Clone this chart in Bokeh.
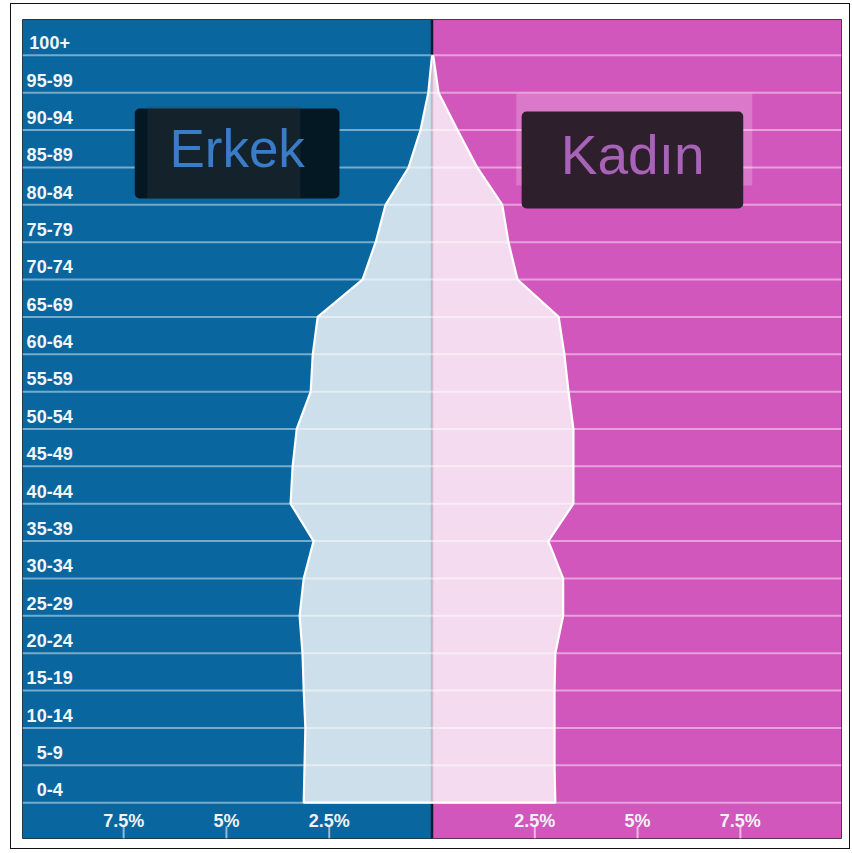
from bokeh.plotting import figure
from bokeh.models import Range1d, BoxAnnotation, Label, InlineStyleSheet
from bokeh.core.properties import value
from bokeh.embed import file_html
from bokeh.resources import INLINE

# ---- data ----
age_groups = ["0-4", "5-9", "10-14", "15-19", "20-24", "25-29", "30-34", "35-39",
              "40-44", "45-49", "50-54", "55-59", "60-64", "65-69", "70-74",
              "75-79", "80-84", "85-89", "90-94", "95-99", "100+"]
male_pct = [3.12, 3.10, 3.08, 3.12, 3.15, 3.22, 3.12, 2.88, 3.44, 3.39, 3.29,
            2.95, 2.90, 2.78, 1.69, 1.37, 1.13, 0.57, 0.28, 0.09, 0.0]
female_pct = [3.00, 2.98, 2.98, 2.98, 3.00, 3.19, 3.19, 2.83, 3.44, 3.44, 3.44,
              3.32, 3.22, 3.08, 2.08, 1.86, 1.71, 1.10, 0.62, 0.16, 0.03]
tick_values = [-7.5, -5, -2.5, 2.5, 5, 7.5]
tick_labels = ["7.5%", "5%", "2.5%", "2.5%", "5%", "7.5%"]
series_names = ["Erkek", "Kadın"]

# ---- styling ----
BLUE_BG = "#0a669e"
PINK_BG = "#d257bd"
MALE_FILL = "#cddfeb"
FEMALE_FILL = "#f4dbf0"
X_MIN, X_MAX = -9.96, 9.96
Y_MIN, Y_MAX = -0.96, 20.96

p = figure(width=851, height=851, output_backend="svg", toolbar_location=None,
           x_range=Range1d(X_MIN, X_MAX), y_range=Range1d(Y_MIN, Y_MAX),
           x_axis_type=None, y_axis_type=None,
           min_border_left=22, min_border_right=10, min_border_top=19, min_border_bottom=13)
p.outline_line_color = "#2a2a2a"
p.outline_line_width = 1
p.background_fill_color = None
p.border_fill_color = "white"
p.stylesheets = [InlineStyleSheet(css=":host::after { content: ''; position: absolute; "
                                      "left: 10px; top: 3px; width: 838px; height: 844px; "
                                      "border: 1.5px solid #111111; pointer-events: none; z-index: 10; }")]

ys = list(range(len(age_groups)))
neg_male = [-v for v in male_pct]

# backgrounds
p.quad(left=[X_MIN, 0], right=[0, X_MAX], bottom=[Y_MIN, Y_MIN], top=[Y_MAX, Y_MAX],
       fill_color=[BLUE_BG, PINK_BG], line_color=None)

# dark center line
p.segment(x0=[0], y0=[Y_MIN], x1=[0], y1=[Y_MAX], line_color="#0e1c28", line_width=2.5)

# pyramid areas
p.harea(x1=neg_male, x2=[0] * len(ys), y=ys, fill_color=MALE_FILL)
p.harea(x1=[0] * len(ys), x2=female_pct, y=ys, fill_color=FEMALE_FILL)

# soft center line within pyramid
p.segment(x0=[0], y0=[ys[0]], x1=[0], y1=[ys[-1]], line_color="black", line_alpha=0.14, line_width=2.5)

# gridlines
p.segment(x0=[X_MIN] * len(ys), y0=ys, x1=[X_MAX] * len(ys), y1=ys,
          line_color="white", line_alpha=0.45, line_width=2)

# outlines
p.line(x=[0] + neg_male, y=[ys[0]] + ys, line_color="white", line_width=2.2)
p.line(x=[0] + female_pct, y=[ys[0]] + ys, line_color="white", line_width=2.2)

# age labels
p.text(x=[-9.30] * len(ys), y=[v + 0.34 for v in ys], text=age_groups,
       text_align="center", text_baseline="alphabetic",
       text_font=value("Liberation Sans"), text_font_style="bold",
       text_font_size="18px", text_color="#f2f6fa")

# ticks & tick labels
tick_colors = ["#8fbad8" if t < 0 else "#f0b8e6" for t in tick_values]
p.segment(x0=tick_values, y0=[-0.64] * len(tick_values), x1=tick_values, y1=[Y_MIN] * len(tick_values),
          line_color=tick_colors, line_width=2)
p.text(x=tick_values, y=[-0.49] * len(tick_values), text=tick_labels,
       text_align="center", text_baseline="alphabetic",
       text_font=value("Liberation Sans"), text_font_style="bold",
       text_font_size="18px", text_color="#f2f2f6")

# legend-like labels
p.add_layout(BoxAnnotation(left=2.05, right=7.79, top=18.98, bottom=16.52,
                           fill_color="white", fill_alpha=0.2, line_color=None, level="annotation"))
p.add_layout(BoxAnnotation(left=-7.23, right=-2.25, top=18.58, bottom=16.17,
                           fill_color="#041824", fill_alpha=1.0, line_color=None,
                           border_radius=5, level="annotation"))
p.add_layout(BoxAnnotation(left=-6.92, right=-3.20, top=18.63, bottom=16.16,
                           fill_color="#3a3a3a", fill_alpha=0.3, line_color=None, level="annotation"))
p.add_layout(BoxAnnotation(left=2.18, right=7.57, top=18.50, bottom=15.90,
                           fill_color="#2e1f2c", fill_alpha=1.0, line_color=None,
                           border_radius=5, level="annotation"))

p.add_layout(Label(x=-4.74, y=17.50, text=series_names[0], text_align="center",
                   text_baseline="alphabetic", text_font="Liberation Sans",
                   text_font_size="53px", text_color="#3a7cc8"))
p.add_layout(Label(x=4.88, y=17.33, text=series_names[1], text_align="center",
                   text_baseline="alphabetic", text_font="Liberation Sans",
                   text_font_size="55px", text_color="#a862b8"))

open("out.html", "w").write(file_html(p, INLINE))
